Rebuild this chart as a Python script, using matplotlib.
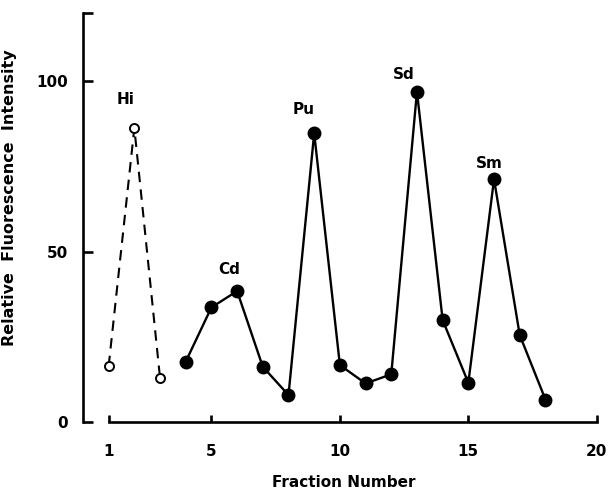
import matplotlib
matplotlib.use("Agg")
from matplotlib import pyplot as plt

# open circles, dashed (Hi peak)
hi_x = [1, 2, 3]
hi_y = [16.4, 86.2, 12.9]

# filled circles, solid line
fr_x = [4, 5, 6, 7, 8, 9, 10, 11, 12, 13, 14, 15, 16, 17, 18]
fr_y = [17.7, 33.6, 38.4, 16.2, 7.9, 84.7, 16.7, 11.3, 14.0, 96.9, 29.9, 11.5, 71.2, 25.5, 6.6]

# peak labels
peak_names = ["Hi", "Cd", "Pu", "Sd", "Sm"]
peak_x = [1.65, 5.7, 8.6, 12.5, 15.8]
peak_y = [94.6, 44.8, 91.7, 101.8, 75.9]

x_ticks = [1, 5, 10, 15, 20]
y_ticks = [0, 50, 100, 120]
y_ticklabels = ["0", "50", "100", ""]

plt.rcParams['font.family'] = ['DejaVu Sans']
plt.rcParams['font.weight'] = 'bold'

fig = plt.figure(figsize=(6.1, 4.93), dpi=100)
ax = fig.add_axes([0.136, 0.144, 0.855, 0.830])

ax.plot(hi_x, hi_y, color='black', linestyle=(0, (5, 3.5)), linewidth=1.5,
        marker='o', markersize=6.5, markerfacecolor='white', markeredgecolor='black',
        markeredgewidth=1.4)
ax.plot(fr_x, fr_y, color='black', linewidth=1.7,
        marker='o', markersize=9, markerfacecolor='black', markeredgecolor='black')

for name, px, py in zip(peak_names, peak_x, peak_y):
    ax.text(px, py, name, fontsize=11, fontweight='bold', ha='center', va='center')

ax.set_xlim(0, 20.3)
ax.set_ylim(0, 120)

# detached axes like the printed figure
ax.spines['top'].set_visible(False)
ax.spines['right'].set_visible(False)
ax.spines['bottom'].set_bounds(1, 20)
ax.spines['left'].set_bounds(0, 120)
ax.spines['bottom'].set_linewidth(1.9)
ax.spines['left'].set_linewidth(1.9)

ax.set_xticks(x_ticks)
ax.set_yticks(y_ticks)
ax.set_yticklabels(y_ticklabels)
ax.tick_params(axis='x', direction='in', length=5, width=1.9, pad=16, labelsize=11)
ax.tick_params(axis='y', direction='in', length=7, width=1.9, pad=11, labelsize=11)
for lab in ax.get_xticklabels() + ax.get_yticklabels():
    lab.set_fontweight('bold')

ax.set_xlabel("Fraction Number", fontsize=11, fontweight='bold', labelpad=11)
ax.set_ylabel("Relative  Fluorescence  Intensity", fontsize=11.5, fontweight='bold')
ax.yaxis.set_label_coords(-0.127, 0.548)

fig.savefig("out.png", dpi=100)
